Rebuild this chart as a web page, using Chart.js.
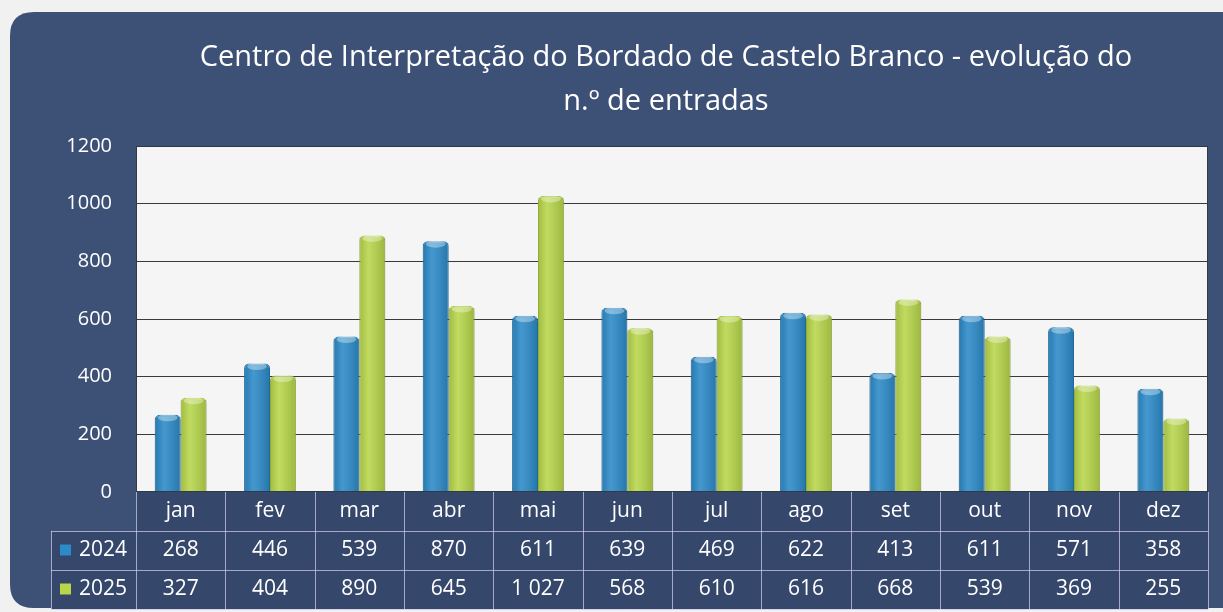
<!DOCTYPE html>
<html>
<head>
<meta charset="utf-8">
<script src="https://cdn.jsdelivr.net/npm/chart.js@4"></script>
<style>
html,body{margin:0;padding:0;background:#f1f1f1}
#wrap{width:1223px;height:612px}
</style>
</head>
<body>
<div id="wrap"><canvas id="c" width="1223" height="612"></canvas></div>
<script>
"use strict"

var months = ['jan','fev','mar','abr','mai','jun','jul','ago','set','out','nov','dez']
var seriesNames = ['2024','2025']
var entradas2024 = [268,446,539,870,611,639,469,622,413,611,571,358]
var entradas2025 = [327,404,890,645,1027,568,610,616,668,539,369,255]
var yTicks = [0,200,400,600,800,1000,1200]
var titleLines = ['Centro de Interpretação do Bordado de Castelo Branco - evolução do','n.º de entradas']

var navy = '#3d5176',
tableNavy = '#36476c',
blue = '#2b8ac8',
green = '#b7d64a',
font = '"Open Sans", "Noto Sans", sans-serif'

function fmt(n){
	return String(n).replace(/\B(?=(\d{3})+(?!\d))/g,' ')
}

function roundRect(ctx,x,y,w,h,r){
	ctx.beginPath()
	ctx.moveTo(x+r,y)
	ctx.lineTo(x+w-r,y)
	ctx.quadraticCurveTo(x+w,y,x+w,y+r)
	ctx.lineTo(x+w,y+h-r)
	ctx.quadraticCurveTo(x+w,y+h,x+w-r,y+h)
	ctx.lineTo(x+r,y+h)
	ctx.quadraticCurveTo(x,y+h,x,y+h-r)
	ctx.lineTo(x,y+r)
	ctx.quadraticCurveTo(x,y,x+r,y)
	ctx.closePath()
}

var frame = {
	id: 'frame',
	beforeDraw: function(chart){
		var ctx = chart.ctx, a = chart.chartArea
		ctx.save()
		ctx.fillStyle = '#f1f1f1'
		ctx.fillRect(0,0,chart.width,chart.height)
		roundRect(ctx,10,12,1240,596,24)
		ctx.fillStyle = navy
		ctx.fill()
		ctx.fillStyle = '#f5f5f5'
		ctx.fillRect(a.left,a.top,a.right-a.left,a.bottom-a.top)
		// title
		ctx.fillStyle = '#ffffff'
		ctx.font = '29px ' + font
		ctx.textAlign = 'center'
		ctx.textBaseline = 'alphabetic'
		var cx = (a.left+a.right)/2 - 6
		ctx.fillText(titleLines[0],cx,66)
		ctx.fillText(titleLines[1],cx,110)
		ctx.restore()
	},
	afterDatasetsDraw: function(chart){
		// cylinder-ish shading on top of the library's bars
		var ctx = chart.ctx
		ctx.save()
		chart.data.datasets.forEach(function(ds,d){
			chart.getDatasetMeta(d).data.forEach(function(bar){
				var l = bar.x-bar.width/2, r = bar.x+bar.width/2
				var g = ctx.createLinearGradient(l,0,r,0)
				g.addColorStop(0,'rgba(0,0,0,0.12)')
				g.addColorStop(0.35,'rgba(255,255,255,0.12)')
				g.addColorStop(1,'rgba(0,0,0,0.15)')
				ctx.fillStyle = g
				ctx.fillRect(l,bar.y+2,bar.width,bar.base-bar.y-2)
				ctx.fillStyle = 'rgba(255,255,255,0.35)'
				ctx.beginPath()
				ctx.ellipse(bar.x,bar.y+3,bar.width/2-3,3.5,0,0,Math.PI*2)
				ctx.fill()
			})
		})
		ctx.restore()
	},
	afterDraw: function(chart){
		var ctx = chart.ctx, a = chart.chartArea, x = chart.scales.x
		var w = (a.right-a.left)/months.length
		var rowH = 39, top = a.bottom, left0 = 51
		var rows = [entradas2024, entradas2025], colors = [blue, green]
		ctx.save()
		ctx.fillStyle = tableNavy
		ctx.fillRect(a.left,top,a.right-a.left,rowH*3)
		ctx.fillRect(left0,top+rowH,a.left-left0,rowH*2)
		ctx.strokeStyle = 'rgba(205,200,235,0.75)'
		ctx.lineWidth = 1
		ctx.beginPath()
		for (var r=1; r<=3; r++){
			ctx.moveTo(left0,top+rowH*r+0.5); ctx.lineTo(a.right,top+rowH*r+0.5)
		}
		ctx.moveTo(left0+0.5,top+rowH); ctx.lineTo(left0+0.5,top+rowH*3)
		for (var i=0; i<=months.length; i++){
			var lx = Math.round(a.left+i*w)+0.5
			ctx.moveTo(lx,top); ctx.lineTo(lx,top+rowH*3)
		}
		ctx.stroke()
		ctx.font = '21px ' + font
		ctx.textAlign = 'center'
		ctx.textBaseline = 'middle'
		ctx.fillStyle = '#ffffff'
		months.forEach(function(m,i){
			var px = x.getPixelForValue(i)
			ctx.fillText(m,px,top+rowH/2)
			rows.forEach(function(vals,j){
				ctx.fillText(fmt(vals[i]),px,top+rowH*(j+1.5))
			})
		})
		seriesNames.forEach(function(name,j){
			var cy = top+rowH*(j+1.5)
			ctx.fillStyle = colors[j]
			ctx.fillRect(60,cy-6,11,11)
			ctx.fillStyle = '#ffffff'
			ctx.textAlign = 'left'
			ctx.fillText(name,79,cy)
		})
		ctx.strokeStyle = '#333a44'
		ctx.strokeRect(a.left+0.5,a.top+0.5,a.right-a.left-1,a.bottom-a.top-1)
		ctx.restore()
	}
}

new Chart(document.getElementById('c'),{
	type: 'bar',
	data: {
		labels: months,
		datasets: [
			{label: seriesNames[0], data: entradas2024, backgroundColor: blue, borderColor: '#2479b3', borderWidth: 1, borderRadius: {topLeft: 5, topRight: 5}, borderSkipped: 'bottom'},
			{label: seriesNames[1], data: entradas2025, backgroundColor: green, borderColor: '#a6c43e', borderWidth: 1, borderRadius: {topLeft: 5, topRight: 5}, borderSkipped: 'bottom'}
		]
	},
	options: {
		responsive: false,
		animation: false,
		datasets: {bar: {categoryPercentage: 0.58, barPercentage: 1}},
		layout: {padding: {top: 146, bottom: 120, left: 10, right: 15}},
		plugins: {legend: {display: false}, tooltip: {enabled: false}, title: {display: false}},
		scales: {
			x: {display: false, grid: {display: false}},
			y: {
				min: 0, max: 1200,
				afterFit: function(scale){ scale.width = 126 },
				afterBuildTicks: function(scale){ scale.ticks = yTicks.map(function(v){ return {value: v} }) },
				border: {display: false},
				grid: {color: '#3a3a3a', lineWidth: 1, drawTicks: false},
				ticks: {
					color: '#ffffff', padding: 24, font: {family: font, size: 20},
					callback: function(v){ return String(v) }
				}
			}
		}
	},
	plugins: [frame]
})
</script>
</body>
</html>
